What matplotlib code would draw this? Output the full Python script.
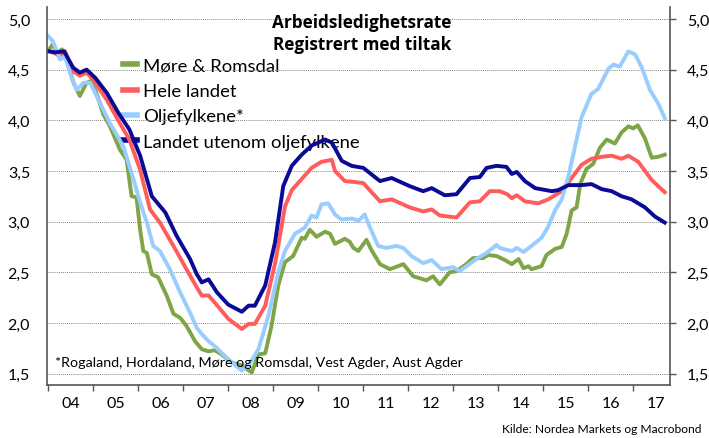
import matplotlib
matplotlib.use("Agg")
import matplotlib.pyplot as plt
from matplotlib.ticker import FixedLocator, NullFormatter, FuncFormatter

plt.rcParams['font.family'] = ['Lato', 'DejaVu Sans']

# Data (decimal years, percent)
more_t = [2004.02, 2004.1, 2004.2, 2004.3, 2004.38, 2004.56, 2004.7, 2004.85, 2004.96, 2005.07,
          2005.22, 2005.37, 2005.59, 2005.74, 2005.85, 2005.96, 2006.04, 2006.11, 2006.19, 2006.3,
          2006.44, 2006.63, 2006.78, 2006.93, 2007.07, 2007.26, 2007.41, 2007.56, 2007.7, 2007.85,
          2008.07, 2008.3, 2008.52, 2008.67, 2008.82, 2008.96, 2009.11, 2009.26, 2009.44, 2009.63,
          2009.7, 2009.81, 2009.96, 2010.15, 2010.26, 2010.37, 2010.59, 2010.7, 2010.78, 2010.89,
          2011.07, 2011.18, 2011.37, 2011.59, 2011.89, 2012.11, 2012.26, 2012.4, 2012.55, 2012.7,
          2012.92, 2013.07, 2013.29, 2013.44, 2013.66, 2013.77, 2013.96, 2014.15, 2014.3, 2014.45,
          2014.56, 2014.67, 2014.74, 2014.96, 2015.07, 2015.26, 2015.41, 2015.52, 2015.63, 2015.74,
          2015.82, 2015.96, 2016.11, 2016.26, 2016.41, 2016.59, 2016.74, 2016.89, 2017.0, 2017.1,
          2017.26, 2017.41, 2017.56, 2017.7]
more_v = [4.70, 4.75, 4.66, 4.70, 4.65, 4.37, 4.24, 4.37, 4.39, 4.27,
          4.06, 3.94, 3.71, 3.61, 3.25, 3.24, 2.92, 2.71, 2.69, 2.48,
          2.45, 2.27, 2.09, 2.05, 1.97, 1.82, 1.74, 1.72, 1.73, 1.69,
          1.61, 1.58, 1.51, 1.69, 1.70, 1.97, 2.37, 2.60, 2.66, 2.84,
          2.83, 2.92, 2.85, 2.90, 2.88, 2.78, 2.83, 2.80, 2.74, 2.71,
          2.82, 2.72, 2.58, 2.53, 2.58, 2.46, 2.44, 2.42, 2.46, 2.38,
          2.50, 2.51, 2.58, 2.64, 2.64, 2.67, 2.66, 2.62, 2.58, 2.63,
          2.54, 2.56, 2.53, 2.56, 2.67, 2.73, 2.75, 2.88, 3.11, 3.14,
          3.37, 3.52, 3.57, 3.73, 3.81, 3.77, 3.88, 3.94, 3.92, 3.95,
          3.82, 3.63, 3.64, 3.66]

hele_t = [2004.02, 2004.15, 2004.26, 2004.37, 2004.56, 2004.7, 2004.85, 2005.0, 2005.3, 2005.59,
          2005.8, 2006.04, 2006.26, 2006.48, 2006.78, 2007.07, 2007.3, 2007.41, 2007.56, 2007.7,
          2008.0, 2008.3, 2008.45, 2008.59, 2008.82, 2009.04, 2009.26, 2009.41, 2009.63, 2009.85,
          2010.07, 2010.3, 2010.37, 2010.59, 2010.81, 2011.0, 2011.37, 2011.63, 2012.03, 2012.33,
          2012.52, 2012.7, 2013.07, 2013.37, 2013.59, 2013.81, 2014.03, 2014.2, 2014.3, 2014.41,
          2014.59, 2014.89, 2015.11, 2015.41, 2015.63, 2015.85, 2016.07, 2016.3, 2016.52, 2016.74,
          2016.89, 2017.11, 2017.41, 2017.7]
hele_v = [4.68, 4.66, 4.63, 4.68, 4.48, 4.44, 4.47, 4.40, 4.20, 3.97,
          3.81, 3.51, 3.12, 2.99, 2.76, 2.53, 2.35, 2.27, 2.27, 2.20,
          2.04, 1.94, 1.99, 1.99, 2.17, 2.59, 3.15, 3.31, 3.42, 3.53,
          3.59, 3.61, 3.50, 3.40, 3.39, 3.38, 3.20, 3.22, 3.14, 3.10,
          3.12, 3.06, 3.04, 3.19, 3.20, 3.30, 3.30, 3.27, 3.23, 3.26,
          3.20, 3.18, 3.22, 3.30, 3.43, 3.56, 3.62, 3.64, 3.65, 3.62,
          3.65, 3.59, 3.41, 3.29]

olje_t = [2004.0, 2004.1, 2004.26, 2004.37, 2004.48, 2004.63, 2004.78, 2004.93, 2005.15, 2005.37,
          2005.67, 2005.89, 2006.04, 2006.19, 2006.33, 2006.48, 2006.7, 2006.93, 2007.15, 2007.3,
          2007.41, 2007.56, 2007.7, 2008.0, 2008.3, 2008.45, 2008.67, 2008.89, 2009.11, 2009.26,
          2009.48, 2009.7, 2009.85, 2009.96, 2010.07, 2010.22, 2010.37, 2010.52, 2010.74, 2010.9,
          2011.03, 2011.14, 2011.33, 2011.51, 2011.74, 2011.89, 2012.07, 2012.33, 2012.52, 2012.74,
          2013.0, 2013.14, 2013.51, 2013.74, 2013.96, 2014.03, 2014.2, 2014.3, 2014.41, 2014.56,
          2014.74, 2014.96, 2015.11, 2015.26, 2015.41, 2015.56, 2015.7, 2015.85, 2016.07, 2016.22,
          2016.45, 2016.56, 2016.7, 2016.89, 2017.04, 2017.19, 2017.37, 2017.56, 2017.7]
olje_v = [4.83, 4.78, 4.60, 4.63, 4.47, 4.30, 4.37, 4.37, 4.17, 3.97,
          3.74, 3.42, 3.19, 2.99, 2.76, 2.71, 2.53, 2.30, 2.10, 1.95,
          1.89, 1.82, 1.77, 1.64, 1.53, 1.58, 1.74, 2.07, 2.50, 2.71,
          2.88, 2.94, 3.06, 3.04, 3.17, 3.18, 3.07, 3.02, 3.03, 3.01,
          3.07, 2.95, 2.76, 2.74, 2.76, 2.74, 2.66, 2.59, 2.62, 2.53,
          2.55, 2.51, 2.63, 2.69, 2.77, 2.74, 2.72, 2.71, 2.74, 2.70,
          2.76, 2.84, 2.95, 3.11, 3.22, 3.45, 3.73, 4.03, 4.26, 4.31,
          4.51, 4.55, 4.53, 4.68, 4.65, 4.52, 4.30, 4.16, 4.02]

utenom_t = [2004.02, 2004.15, 2004.35, 2004.55, 2004.7, 2004.85, 2005.04, 2005.3, 2005.56, 2005.8,
            2006.04, 2006.3, 2006.6, 2006.85, 2007.15, 2007.3, 2007.41, 2007.56, 2007.75, 2008.0,
            2008.3, 2008.45, 2008.59, 2008.82, 2009.04, 2009.22, 2009.41, 2009.63, 2009.85, 2010.15,
            2010.3, 2010.52, 2010.74, 2011.0, 2011.37, 2011.63, 2012.03, 2012.33, 2012.52, 2012.81,
            2013.07, 2013.37, 2013.59, 2013.74, 2013.96, 2014.18, 2014.3, 2014.41, 2014.59, 2014.82,
            2015.19, 2015.33, 2015.56, 2015.85, 2016.07, 2016.3, 2016.52, 2016.74, 2016.96, 2017.26,
            2017.48, 2017.7]
utenom_v = [4.68, 4.67, 4.68, 4.52, 4.47, 4.50, 4.42, 4.27, 4.07, 3.91,
            3.65, 3.25, 3.09, 2.86, 2.63, 2.48, 2.40, 2.43, 2.30, 2.18,
            2.11, 2.17, 2.17, 2.37, 2.80, 3.35, 3.55, 3.66, 3.75, 3.81,
            3.78, 3.60, 3.55, 3.53, 3.40, 3.43, 3.35, 3.30, 3.33, 3.26,
            3.27, 3.43, 3.44, 3.53, 3.55, 3.54, 3.47, 3.49, 3.40, 3.33,
            3.30, 3.31, 3.36, 3.36, 3.37, 3.32, 3.30, 3.25, 3.22, 3.14,
            3.05, 2.99]

years = list(range(2004, 2018))
year_labels = [f"{y % 100:02d}" for y in years]

fig = plt.figure(figsize=(7.09, 4.39), dpi=100)
ax = fig.add_axes([0.0659, 0.1207, 0.8791, 0.8611])


def fit_width(t, target_px):
    # scale a text's font size so it spans target_px pixels
    r = fig.canvas.get_renderer()
    w = t.get_window_extent(r).width
    t.set_fontsize(t.get_fontsize() * target_px / w)


lw = 2.8
ax.plot(more_t, more_v, color='#7ea546', lw=lw, label='Møre & Romsdal', solid_joinstyle='round')
ax.plot(hele_t, hele_v, color='#ff5c5c', lw=lw, label='Hele landet', solid_joinstyle='round')
ax.plot(olje_t, olje_v, color='#99ccff', lw=lw, label='Oljefylkene*', solid_joinstyle='round')
ax.plot(utenom_t, utenom_v, color='#0a0a96', lw=lw, label='Landet utenom oljefylkene', solid_joinstyle='round')

ax.set_xlim(2003.964, 2017.816)
ax.set_ylim(1.387, 5.118)

ax.set_yticks([1.5, 2.0, 2.5, 3.0, 3.5, 4.0, 4.5, 5.0])
ax.yaxis.set_major_formatter(FuncFormatter(lambda v, p: f"{v:.1f}".replace('.', ',')))
ax.yaxis.grid(True, color='#888888', linestyle=(0, (1, 1)), linewidth=0.7)
ax.tick_params(axis='y', which='major', labelsize=11.5, left=False, right=True,
               labelleft=True, labelright=True, direction='out', length=4, width=1,
               color='#555555', pad=8)

ax.xaxis.set_major_locator(FixedLocator(years))
ax.xaxis.set_major_formatter(NullFormatter())
ax.xaxis.set_minor_locator(FixedLocator([y + 0.5 for y in years]))
ax.set_xticklabels(year_labels, minor=True)
ax.tick_params(axis='x', which='major', direction='out', length=4, width=1, color='#555555')
ax.tick_params(axis='x', which='minor', length=0, labelsize=11.5, pad=8)

ax.spines['top'].set_visible(False)
for s in ['left', 'right', 'bottom']:
    ax.spines[s].set_color('#555555')
    ax.spines[s].set_linewidth(1.2)

t1 = fig.text(0.5106, 1 - 28.3 / 439, 'Arbeidsledighetsrate', ha='center', va='baseline',
              fontsize=12, fontweight='bold', family=['Open Sans', 'DejaVu Sans'])
t2 = fig.text(0.5106, 1 - 50.0 / 439, 'Registrert med tiltak', ha='center', va='baseline',
              fontsize=12, fontweight='bold', family=['Open Sans', 'DejaVu Sans'])
fit_width(t1, 179)
t2.set_fontsize(t1.get_fontsize())

leg = ax.legend(loc='upper left', bbox_to_anchor=(0.1224, 0.8654), frameon=False, fontsize=13.3,
                handlelength=0.76, handletextpad=0.31, labelspacing=0.5, borderaxespad=0,
                borderpad=0)
leg.set_zorder(1)  # data lines run over the legend text, as in the original
for h in leg.get_lines():
    h.set_linewidth(4)

note = fig.text(55 / 709, 1 - 363 / 439, '*Rogaland, Hordaland, Møre og Romsdal, Vest Agder, Aust Agder',
                fontsize=10, va='center', ha='left')
fit_width(note, 406)
src = fig.text(701.7 / 709, 1 - 430 / 439, 'Kilde: Nordea Markets og Macrobond',
               ha='right', va='center', fontsize=9)
fit_width(src, 200)

fig.savefig('out.png', dpi=100)
